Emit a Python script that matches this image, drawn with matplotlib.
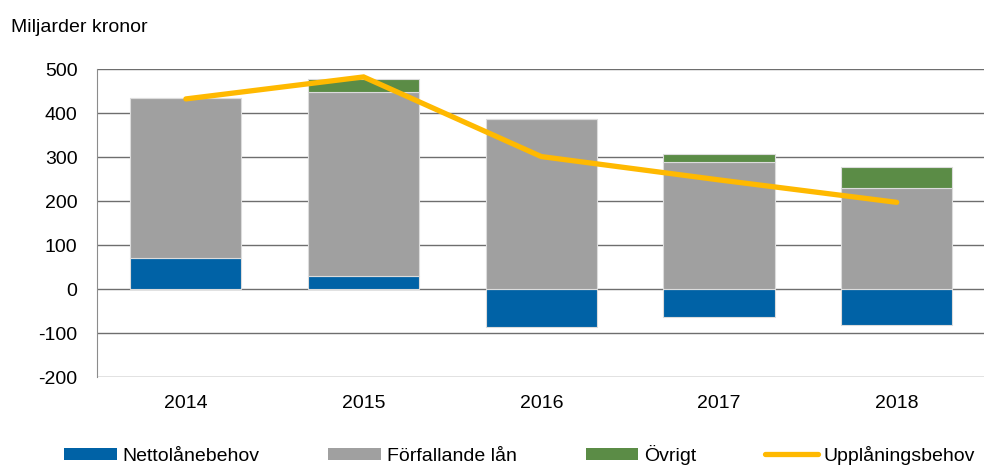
import matplotlib.pyplot as plt
import numpy as np
from matplotlib.patches import Patch
from matplotlib.lines import Line2D

years = ["2014", "2015", "2016", "2017", "2018"]
nettolanebehov = [71, 30, -87, -64, -82]
forfallande_lan = [362, 418, 387, 289, 229]
ovrigt = [0, 29, 0, 18, 49]
upplaningsbehov = [432, 482, 301, 248, 197]

BLUE = "#0062a6"
GRAY = "#a0a0a0"
GREEN = "#5b8c46"
YELLOW = "#ffb900"

plt.rcParams["font.family"] = ["Liberation Sans", "DejaVu Sans"]
plt.rcParams["axes.unicode_minus"] = False

fig = plt.figure(figsize=(9.84, 4.65), dpi=100)
ax = fig.add_axes([0.0986, 0.1892, 0.903, 0.6624])

x = np.arange(len(years))
width = 0.625
edge = dict(edgecolor="#dcdcdc", linewidth=0.8)

# positive parts stack on top of each other, negatives hang below zero
net = np.array(nettolanebehov, dtype=float)
base = np.where(net > 0, net, 0)
ax.bar(x, net, width, color=BLUE, zorder=2, **edge)
ax.bar(x, forfallande_lan, width, bottom=base, color=GRAY, zorder=2, **edge)
base = base + np.array(forfallande_lan)
ax.bar(x, ovrigt, width, bottom=base, color=GREEN, zorder=2, **edge)

ax.plot(x, upplaningsbehov, color=YELLOW, linewidth=3.8,
        solid_capstyle="round", solid_joinstyle="miter", zorder=3)

ax.set_xlim(-0.5, 4.5)
ax.set_ylim(-200, 500)
ax.set_yticks(range(-200, 501, 100))
ax.set_xticks(x)
ax.set_xticklabels(years)
ax.yaxis.grid(True, color="#6e6e6e", linewidth=1.0, zorder=0)
ax.set_axisbelow(True)
for side in ["top", "right", "bottom"]:
    ax.spines[side].set_visible(False)
ax.spines["left"].set_color("#8c8c8c")
ax.tick_params(axis="both", length=0, labelsize=14, colors="black")
ax.tick_params(axis="y", pad=14)
ax.tick_params(axis="x", pad=13)

fig.text(0.011, 0.932, "Miljarder kronor", fontsize=14, va="baseline", ha="left")

handles = [
    Patch(facecolor=BLUE, label="Nettolånebehov"),
    Patch(facecolor=GRAY, label="Förfallande lån"),
    Patch(facecolor=GREEN, label="Övrigt"),
    Line2D([0], [0], color=YELLOW, linewidth=3.8, solid_capstyle="round",
           label="Upplåningsbehov"),
]
fig.legend(handles=handles, loc="center", bbox_to_anchor=(0.528, 0.0215), ncol=4,
           frameon=False, fontsize=14, handlelength=2.7, handleheight=0.6,
           handletextpad=0.3, columnspacing=3.55, borderpad=0, borderaxespad=0)

fig.savefig("out.png", dpi=100)
